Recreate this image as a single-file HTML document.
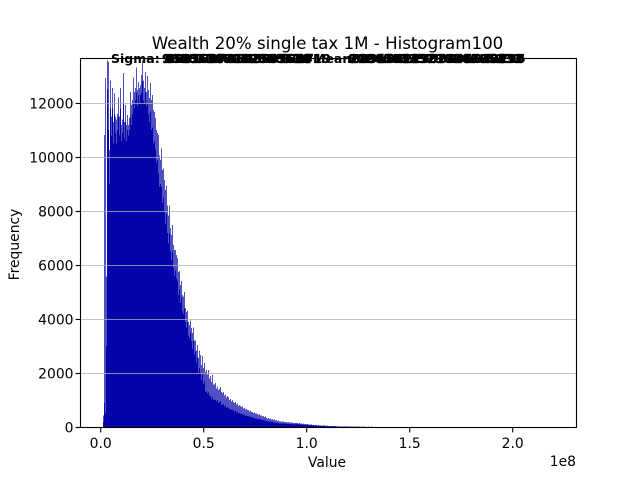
<!DOCTYPE html>
<html lang="en">
<head>
<meta charset="utf-8">
<title>Wealth 20% single tax 1M - Histogram100</title>
<style>
html,body{margin:0;padding:0;background:#fff;}
svg{display:block;}
text{font-family:"DejaVu Sans","Liberation Sans",sans-serif;fill:#000;}
</style>
</head>
<body>
<svg id="chart" xmlns="http://www.w3.org/2000/svg" width="640" height="480" viewBox="0 0 640 480">
  <rect x="0" y="0" width="640" height="480" fill="#fff"/>
  <g id="bars-high" shape-rendering="crispEdges"></g>
  <g id="bars-low" shape-rendering="crispEdges"></g>
  <g id="grid"></g>
  <g id="axes"></g>
  <text x="327.5" y="49" font-size="16.67" text-anchor="middle">Wealth 20% single tax 1M - Histogram100</text>
  <text x="327" y="467" font-size="13.9" text-anchor="middle">Value</text>
  <text transform="translate(19 244.5) rotate(-90)" font-size="13.9" text-anchor="middle">Frequency</text>
  <text x="576" y="466" font-size="13.9" text-anchor="end">1e8</text>
  <g font-size="12.5" font-weight="bold">
    <text x="111" y="63">Sigma:</text>
    <g stroke="#000" stroke-width="0.3">
      <text x="163" y="63">23456789012345678</text>
      <text x="164.5" y="63">85236974102589634</text>
      <text x="166" y="63">40918273645091827</text>
      <text x="162" y="63">96307148259630714</text>
      <text x="296" y="63">4719</text>
      <text x="349" y="63">21987654321098765432</text>
      <text x="350.5" y="63">28345612907345618290</text>
      <text x="348" y="63">80246813579024685133</text>
      <text x="351.5" y="63">60918427350691842735</text>
    </g>
    <text x="313" y="63">Mean:</text>
  </g>
</svg>
<script>
const binStart = 1210000;
const binWidth = 485400;
const peakCounts = [440,10820,12930,5590,13590,13520,10260,12850,11500,12560,11300,12370,11500,11400,11600,12220,11500,12560,11200,11400,13110,11300,11930,11200,11560,11190,11450,12410,11930,12110,12960,12410,12560,13330,12480,12780,12560,12670,13040,13590,12850,12560,13150,12410,13000,12480,12190,12740,12110,12300,11740,11670,11450,11000,10890,10820,10070,9890,10330,9520,9590,9150,8780,8960,8220,7850,8220,7370,7110,7480,6740,6560,6560,6370,6260,5740,5780,5260,5410,4890,4850,5000,4410,4260,4330,3890,3780,3960,3670,3480,3700,3220,3220,2850,3040,2560,2850,2670,2300,2630,2190,2370,2040,2110,1960,2110,1810,1890,1670,1930,1590,1590,1630,1440,1500,1380,1420,1480,1300,1260,1300,1180,1220,1100,1150,1110,1000,1040,960,1000,930,890,930,850,880,780,820,780,740,760,700,720,650,680,630,630,590,610,560,570,520,540,500,510,480,460,480,430,440,400,420,380,390,350,330,340,300,320,290,300,260,280,250,260,230,240,220,220,215,210,205,200,190,195,180,185,175,180,170,170,160,165,155,160,150,140,150,130,140,125,130,120,125,110,115,100,105,95,100,90,85,80,85,75,70,75,65,70,60,65,55,60,55,50,55,50,45,50,45,40,45,40,40,35,40,35,35,30,35,30,30,35,30,25,30,25,25,30,25,20,25,20,25,20,20,25,20,20,15,20,20,15,20,15,15,20,15,15,20,15,15,15,10,15,15,10,15,15,10,10,15,10,10,15];
const solidCounts = [200,900,500,3000,12500,11000,9000,11800,10800,11800,10500,11600,10900,10500,11000,11500,10800,11800,10600,10900,12000,10700,11300,10600,11000,10800,11000,11500,11200,11600,12000,11800,12100,12400,11900,12300,12000,12300,12400,12800,12100,12000,12400,11900,12000,11600,11300,11700,11000,11100,10500,10600,10300,9800,9900,9400,8900,9000,8900,8300,8500,8000,7500,7900,7200,6800,7200,6500,6200,6500,5900,5600,5800,5500,5400,4900,5100,4600,4800,4300,4200,4400,3900,3700,3900,3400,3300,3500,3200,2900,3200,2700,2800,2400,2600,2000,2200,2000,1750,1950,1600,1700,1300,1350,1250,1280,1150,1180,1050,1120,1000,1020,1000,950,1000,900,930,960,850,820,860,770,800,720,750,720,650,680,630,650,610,580,610,550,570,510,530,510,480,490,460,470,420,440,410,410,380,400,360,370,340,350,320,330,310,300,310,280,290,260,270,250,250,230,210,220,200,210,190,190,170,180,160,170,150,155,145,145,140,140,135,130,125,130,120,125,115,120,115,110,105,110,100,110,110,100,115,95,105,90,100,85,90,80,85,75,75,70,75,65,60,60,60,55,50,55,45,50,45,45,40,45,40,35,40,35,30,35,30,30,30,30,25,25,30,25,25,20,25,20,20,25,20,20,20,20,15,20,15,15,15,15,15,15];
const xTickValues = [0, 50000000, 100000000, 150000000, 200000000];
const xTickLabels = ["0.0", "0.5", "1.0", "1.5", "2.0"];
const yTickValues = [0, 2000, 4000, 6000, 8000, 10000, 12000];
const yTickLabels = ["0", "2000", "4000", "6000", "8000", "10000", "12000"];

const NS = "http://www.w3.org/2000/svg";
const plot = { left: 80.5, right: 576.5, top: 58.5, bottom: 427.5 };
function xScale(v) { return 100.7 + v * 206 / 100000000; }
function yScale(v) { return 427.2 - v * 0.027; }

function drawBars(values, groupId, color) {
  const group = document.getElementById(groupId);
  values.forEach(function (value, i) {
    const left = xScale(binStart + i * binWidth);
    const right = xScale(binStart + (i + 1) * binWidth);
    const top = Math.max(yScale(value), plot.top);
    const r = document.createElementNS(NS, "rect");
    r.setAttribute("x", left.toFixed(2));
    r.setAttribute("y", top.toFixed(2));
    r.setAttribute("width", (right - left).toFixed(2));
    r.setAttribute("height", Math.max(plot.bottom - top, 0).toFixed(2));
    r.setAttribute("fill", color);
    
    
    group.appendChild(r);
  });
}
drawBars(peakCounts, "bars-high", "#5050c3");
drawBars(solidCounts, "bars-low", "#0504aa");

const gridGroup = document.getElementById("grid");
const axesGroup = document.getElementById("axes");

function addLine(parent, x1, y1, x2, y2, color, width, opacity) {
  const l = document.createElementNS(NS, "line");
  l.setAttribute("x1", x1);
  l.setAttribute("y1", y1);
  l.setAttribute("x2", x2);
  l.setAttribute("y2", y2);
  l.setAttribute("stroke", color);
  l.setAttribute("stroke-width", width);
  if (opacity) l.setAttribute("opacity", opacity);
  parent.appendChild(l);
  return l;
}
function addLabel(parent, x, y, str, anchor) {
  const t = document.createElementNS(NS, "text");
  t.setAttribute("x", x);
  t.setAttribute("y", y);
  t.setAttribute("font-size", "13.9");
  t.setAttribute("text-anchor", anchor);
  t.textContent = str;
  parent.appendChild(t);
  return t;
}

yTickValues.forEach(function (value, i) {
  const y = Math.round(yScale(value)) + 0.5;
  if (value !== 0) {
    const g = addLine(gridGroup, plot.left, y, plot.right, y, "#b0b0b0", 1.1, "0.75");
    
    
  }
  const tick = addLine(axesGroup, plot.left - 4.9, y, plot.left, y, "#000", 1.1);
  
  
  const label = addLabel(axesGroup, 73.5, y + 5, yTickLabels[i], "end");
  
  
});

xTickValues.forEach(function (value, i) {
  const x = xScale(value);
  const tick = addLine(axesGroup, x, plot.bottom, x, plot.bottom + 4.9, "#000", 1.1);
  
  
  const label = addLabel(axesGroup, x, 448, xTickLabels[i], "middle");
  
  
});

const frame = document.createElementNS(NS, "rect");
frame.setAttribute("x", plot.left);
frame.setAttribute("y", plot.top);
frame.setAttribute("width", plot.right - plot.left);
frame.setAttribute("height", plot.bottom - plot.top);
frame.setAttribute("fill", "none");
frame.setAttribute("stroke", "#000");
frame.setAttribute("stroke-width", "1.1");


axesGroup.appendChild(frame);
</script>
</body>
</html>
